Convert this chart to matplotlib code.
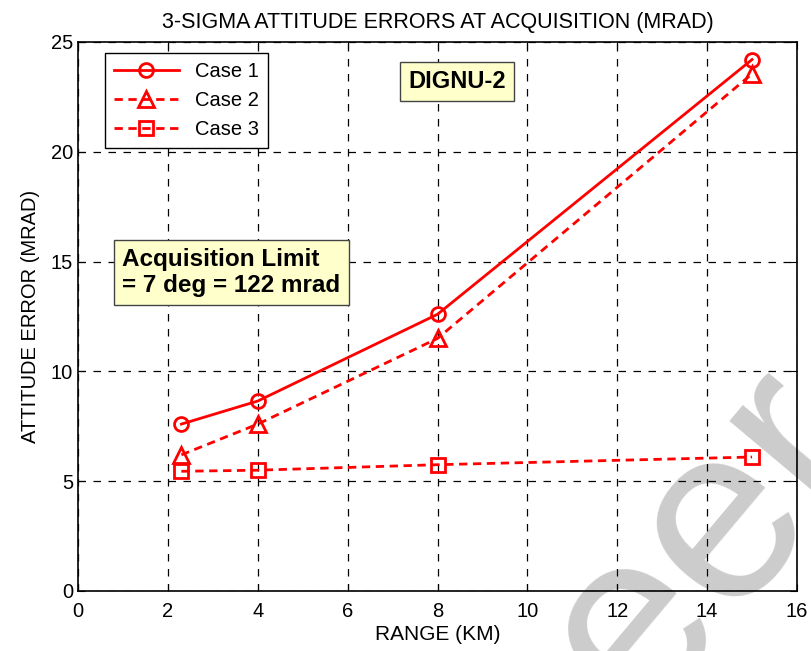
import matplotlib
matplotlib.use("Agg")
import matplotlib.pyplot as plt

plt.rcParams['font.family'] = ['Liberation Sans', 'DejaVu Sans']

range_km = [2.3, 4.0, 8.0, 15.0]
case1 = [7.6, 8.65, 12.6, 24.2]
case2 = [6.2, 7.6, 11.5, 23.55]
case3 = [5.45, 5.5, 5.75, 6.1]
labels = ["Case 1", "Case 2", "Case 3"]
x_ticks = [0, 2, 4, 6, 8, 10, 12, 14, 16]
y_ticks = [0, 5, 10, 15, 20, 25]

fig = plt.figure(figsize=(8.12, 6.51), dpi=100, facecolor='white')
ax = fig.add_axes([0.0961, 0.0922, 0.8854, 0.8433])
ax.set_facecolor('none')

# light grey watermark sitting behind the plot
fig.text(0.868, 0.165, "eer", fontsize=180, color='#cccccc', rotation=50,
         ha='center', va='center', zorder=-1)

red = '#ff0000'
ax.plot(range_km, case1, '-', color=red, lw=2.0, marker='o', ms=10,
        mfc='none', mec=red, mew=2.0, label=labels[0])
ax.plot(range_km, case2, '--', color=red, lw=2.0, marker='^', ms=11,
        mfc='none', mec=red, mew=2.0, label=labels[1], dashes=(3, 2))
ax.plot(range_km, case3, '--', color=red, lw=2.0, marker='s', ms=10,
        mfc='none', mec=red, mew=2.0, label=labels[2], dashes=(3, 2))

ax.set_xlim(0, 16)
ax.set_ylim(0, 25)
ax.set_xticks(x_ticks)
ax.set_yticks(y_ticks)
ax.tick_params(direction='in', length=5, labelsize=14.5, top=True, right=True)
ax.tick_params(axis='x', pad=8)
ax.grid(True, color='black', linestyle=(0, (6, 6)), lw=0.9)
for s in ax.spines.values():
    s.set_linewidth(1.2)

ax.set_title("3-SIGMA ATTITUDE ERRORS AT ACQUISITION (MRAD)", fontsize=15.5, pad=10)
ax.set_xlabel("RANGE (KM)", fontsize=15, labelpad=3)
ax.set_ylabel("ATTITUDE ERROR (MRAD)", fontsize=14.5, labelpad=8)

leg = ax.legend(loc='upper left', bbox_to_anchor=(0.0376, 0.98), borderaxespad=0,
                fontsize=14.5, handlelength=3.2, handletextpad=0.8,
                fancybox=False, framealpha=1, edgecolor='black',
                borderpad=0.45, labelspacing=0.5)
leg.get_frame().set_linewidth(1.0)

box = dict(boxstyle='square,pad=0.35', facecolor='#ffffcc', edgecolor='#444444', lw=1.0)
ax.text(8.43, 23.2, "DIGNU-2", fontsize=17, fontweight='bold', ha='center',
        va='center', bbox=box)
ax.text(0.98, 14.5, "Acquisition Limit\n= 7 deg = 122 mrad", fontsize=17.5,
        fontweight='bold', ha='left', va='center', bbox=box, linespacing=1.15)

fig.savefig("out.png", dpi=100, facecolor='white')
